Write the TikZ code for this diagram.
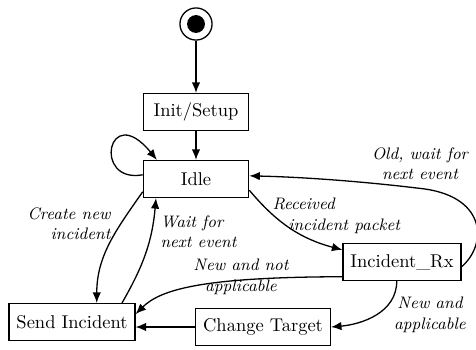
\documentclass[tikz,border=0pt]{standalone}
\usetikzlibrary{arrows.meta}

\begin{document}
\begin{tikzpicture}[x=0.019cm, y=-0.019cm, line width=0.7pt,
  state/.style={draw, rectangle, minimum width=2cm, minimum height=0.7cm, inner xsep=4pt},
  trans/.style={-{Latex[length=2mm, width=1.6mm]}},
  lbl/.style={font=\small\itshape, inner sep=1pt}]
\useasboundingbox (0,0) rectangle (476,350);
% states
\node[draw, circle, minimum size=0.61cm, inner sep=0pt] (start) at (196,24) {};
\fill (start) circle (0.17cm);
\node[state] (init) at (196,112) {Init/Setup};
\node[state] (idle) at (196,179) {Idle};
\node[state] (send) at (72,322) {Send Incident};
\node[state] (change) at (263,327) {Change Target};
\node[state] (rx) at (402,262) {Incident\_Rx};
% transitions
\draw[trans] (start) -- (init);
\draw[trans] (init) -- (idle);
\draw[trans] ([yshift=0.08cm]idle.west) .. controls (92,184) and (108,100) .. ([xshift=0.27cm]idle.north west);
\draw[trans] ([yshift=0.12cm]idle.south west) to[out=235, in=90] ([xshift=0.47cm]send.north);
\draw[trans] ([xshift=0.95cm]send.north) to[out=60, in=-95] ([xshift=-0.76cm]idle.south);
\draw[trans] ([yshift=0.15cm]idle.south east) to[out=-50, in=165] ([yshift=0.23cm]rx.west);
\draw[trans] ([yshift=-0.09cm]rx.east) .. controls (487,245) and (487,198) .. (425,189)
  .. controls (360,181) and (300,177) .. ([yshift=0.06cm]idle.east);
\draw[trans] ([yshift=-0.28cm]rx.west) .. controls (200,277) and (160,290) .. ([yshift=0.15cm]send.east);
\draw[trans] ([xshift=-0.1cm]rx.south) to[out=-90, in=5] (change.east);
\draw[trans] (change.west) -- (change.west -| send.east);
% labels
\node[lbl, anchor=east, align=right] (lcreate) at (113,224) {Create new\\incident};
\node[lbl, anchor=west, align=left] (lwait) at (158,232) {Wait for\\next event};
\node[lbl, anchor=west, align=left] (lrecv) at (270,216) {Received\\\hspace*{0.3cm}incident packet};
\node[lbl, align=center] (lold) at (420,164) {Old, wait for\\next event};
\node[lbl, align=center] (lnotapp) at (241,277) {New and not\\applicable};
\node[lbl, align=center] (lapp) at (430,315) {New and\\applicable};
\end{tikzpicture}
\end{document}
